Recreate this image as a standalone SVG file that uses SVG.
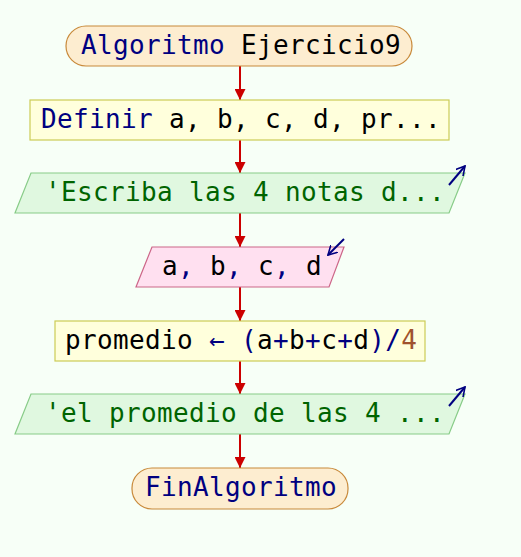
<svg xmlns="http://www.w3.org/2000/svg" width="521" height="557" viewBox="0 0 521 557">
  <style>
    text { font-family: "DejaVu Sans Mono", "Liberation Mono", monospace; font-size: 26px; letter-spacing: 0.35px; }
    .term { fill: #fdedd0; stroke: #c8893a; stroke-width: 1.2; }
    .proc { fill: #ffffdc; stroke: #cccc55; stroke-width: 1.2; }
    .out { fill: #e0f8e0; stroke: #88cc88; stroke-width: 1.2; }
    .inp { fill: #ffe0f0; stroke: #cc6688; stroke-width: 1.2; }
    .kw { fill: #000080; }
    .id { fill: #000000; }
    .str { fill: #006400; }
    .num { fill: #a0522d; }
    .edge { stroke: #cc0000; stroke-width: 2; fill: none; marker-end: url(#head); }
    .io { stroke: #000080; stroke-width: 2; fill: none; marker-end: url(#ioHead); }
  </style>
  <defs>
    <marker id="head" viewBox="0 0 10 10" refX="10" refY="5" markerWidth="5.5" markerHeight="5.5" orient="auto" markerUnits="strokeWidth">
      <path d="M0,0 L10,5 L0,10 z" fill="#cc0000"/>
    </marker>
    <marker id="ioHead" viewBox="0 0 10 10" refX="9" refY="5" markerWidth="5" markerHeight="5" orient="auto" markerUnits="strokeWidth">
      <path d="M0,0 L9,5 L0,10" fill="none" stroke="#000080" stroke-width="1.6"/>
    </marker>
  </defs>
  <rect width="521" height="557" fill="#f7fff7"/>

  <g id="connectors">
    <line class="edge" x1="240" y1="66" x2="240" y2="100"/>
    <line class="edge" x1="240" y1="140" x2="240" y2="173"/>
    <line class="edge" x1="240" y1="213" x2="240" y2="247"/>
    <line class="edge" x1="240" y1="287" x2="240" y2="321"/>
    <line class="edge" x1="240" y1="361" x2="240" y2="394"/>
    <line class="edge" x1="240" y1="434" x2="240" y2="468"/>
  </g>

  <g id="start">
    <rect class="term" x="66" y="26" width="346" height="40" rx="20" ry="20"/>
    <text x="81" y="54"><tspan class="kw">Algoritmo</tspan><tspan class="id"> Ejercicio9</tspan></text>
  </g>

  <g id="define">
    <rect class="proc" x="30" y="100" width="419" height="40"/>
    <text x="41" y="128"><tspan class="kw">Definir</tspan><tspan class="id"> a, b, c, d, pr...</tspan></text>
  </g>

  <g id="write1">
    <polygon class="out" points="31,173 465,173 449,213 15,213"/>
    <text x="45" y="201" class="str">'Escriba las 4 notas d...</text>
    <line class="io" x1="449" y1="185" x2="465" y2="166"/>
  </g>

  <g id="read">
    <polygon class="inp" points="152,247 344,247 329,287 136,287"/>
    <text x="162" y="275"><tspan class="id">a</tspan><tspan class="kw">,</tspan><tspan class="id"> b</tspan><tspan class="kw">,</tspan><tspan class="id"> c</tspan><tspan class="kw">,</tspan><tspan class="id"> d</tspan></text>
    <line class="io" x1="344" y1="239" x2="328" y2="255"/>
  </g>

  <g id="assign">
    <rect class="proc" x="55" y="321" width="370" height="40"/>
    <text x="65" y="349"><tspan class="id">promedio </tspan><tspan class="kw">←</tspan><tspan class="kw"> (</tspan><tspan class="id">a</tspan><tspan class="kw">+</tspan><tspan class="id">b</tspan><tspan class="kw">+</tspan><tspan class="id">c</tspan><tspan class="kw">+</tspan><tspan class="id">d</tspan><tspan class="kw">)/</tspan><tspan class="num">4</tspan></text>
  </g>

  <g id="write2">
    <polygon class="out" points="31,394 465,394 449,434 15,434"/>
    <text x="45" y="422" class="str">'el promedio de las 4 ...</text>
    <line class="io" x1="449" y1="406" x2="465" y2="387"/>
  </g>

  <g id="end">
    <rect class="term" x="132" y="468" width="216" height="41" rx="20" ry="20"/>
    <text x="145" y="496" class="kw">FinAlgoritmo</text>
  </g>
</svg>
